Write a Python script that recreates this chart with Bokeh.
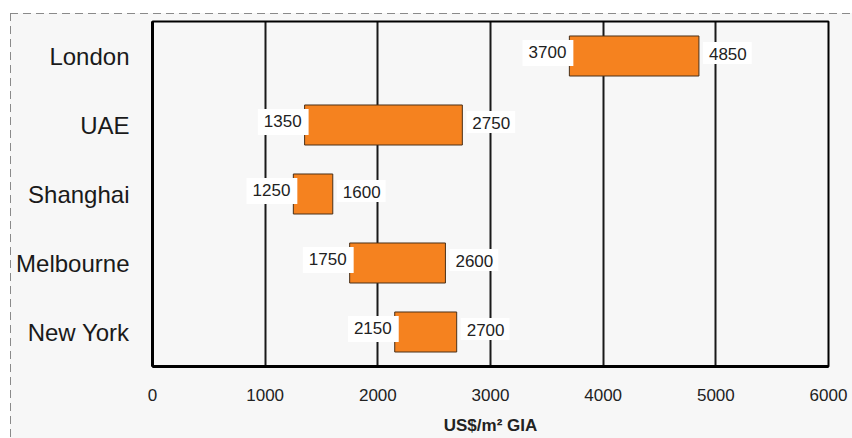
from bokeh.plotting import figure
from bokeh.models import ColumnDataSource, FactorRange, FixedTicker
from bokeh.core.properties import value
from bokeh.embed import file_html
from bokeh.resources import INLINE

# Cost ranges per city, US$/m² GIA
cities = ["London", "UAE", "Shanghai", "Melbourne", "New York"]
low = [3700, 1350, 1250, 1750, 2150]
high = [4850, 2750, 1600, 2600, 2700]
x_ticks = [0, 1000, 2000, 3000, 4000, 5000, 6000]

FONT = "Liberation Sans"
BG = "#f7f7f7"
DASH = "#8a8a8a"

src = ColumnDataSource(dict(
    city=cities,
    low=low,
    high=high,
    low_txt=[str(v) for v in low],
    high_txt=[str(v) for v in high],
))

p = figure(
    width=852, height=438,
    y_range=FactorRange(factors=list(reversed(cities))),
    x_range=(0, 6000),
    output_backend="svg", toolbar_location=None,
    min_border_left=152, min_border_right=24,
    min_border_top=21, min_border_bottom=72,
)
p.background_fill_color = BG
p.border_fill_alpha = 0
p.outline_line_color = "black"
p.outline_line_width = 2

# panel: light grey area framed by a dashed rule on its top and left sides
p.styles = {
    "background": (
        f"repeating-linear-gradient(to right, {DASH} 0 8px, transparent 8px 13px) 10px 13px / 100% 1px no-repeat, "
        f"repeating-linear-gradient(to bottom, {DASH} 0 8px, transparent 8px 13px) 10px 13px / 1px 100% no-repeat, "
        f"linear-gradient({BG}, {BG}) 10px 13px / 100% 100% no-repeat, "
        "white"
    ),
}

# vertical grid lines
p.ygrid.grid_line_color = None
p.xgrid.ticker = FixedTicker(ticks=x_ticks[1:-1])
p.xgrid.grid_line_color = "black"
p.xgrid.grid_line_width = 2
p.xgrid.grid_line_alpha = 0.9

# range bars
p.hbar(y="city", left="low", right="high", height=0.58, source=src,
       fill_color="#f5821f", line_color="#4a3018", line_width=1)

# value labels on white boxes
p.text(x="low", y="city", text="low_txt", source=src,
       text_align="right", text_baseline="middle",
       x_offset=4, y_offset=-3,
       text_font=value(FONT), text_font_size="17px", text_color="#222222",
       background_fill_color="white", padding=[6, 7, 6, 8])
p.text(x="high", y="city", text="high_txt", source=src,
       text_align="left", text_baseline="middle",
       x_offset=4, y_offset=-3,
       text_font=value(FONT), text_font_size="17px", text_color="#222222",
       background_fill_color="white", padding=[6, 5, 6, 4])

# axes
p.xaxis.ticker = FixedTicker(ticks=x_ticks)
p.xaxis.axis_label = "US$/m² GIA"
p.xaxis.axis_label_text_font = FONT
p.xaxis.axis_label_text_font_style = "bold"
p.xaxis.axis_label_text_font_size = "17px"
p.xaxis.axis_label_text_color = "#222222"
p.xaxis.axis_label_standoff = 12
p.xaxis.major_label_text_font = FONT
p.xaxis.major_label_text_font_size = "17px"
p.xaxis.major_label_text_color = "#222222"
p.xaxis.major_label_standoff = 16
p.xaxis.axis_line_width = 3
p.xaxis.axis_line_color = "black"
p.xaxis.major_tick_line_color = None
p.xaxis.minor_tick_line_color = None

p.yaxis.major_label_text_font = FONT
p.yaxis.major_label_text_font_size = "24px"
p.yaxis.major_label_text_color = "#1a1a1a"
p.yaxis.major_label_standoff = 17
p.yaxis.axis_line_width = 3
p.yaxis.axis_line_color = "black"
p.yaxis.major_tick_line_color = None
p.yaxis.minor_tick_line_color = None

open("out.html", "w").write(file_html(p, INLINE))
